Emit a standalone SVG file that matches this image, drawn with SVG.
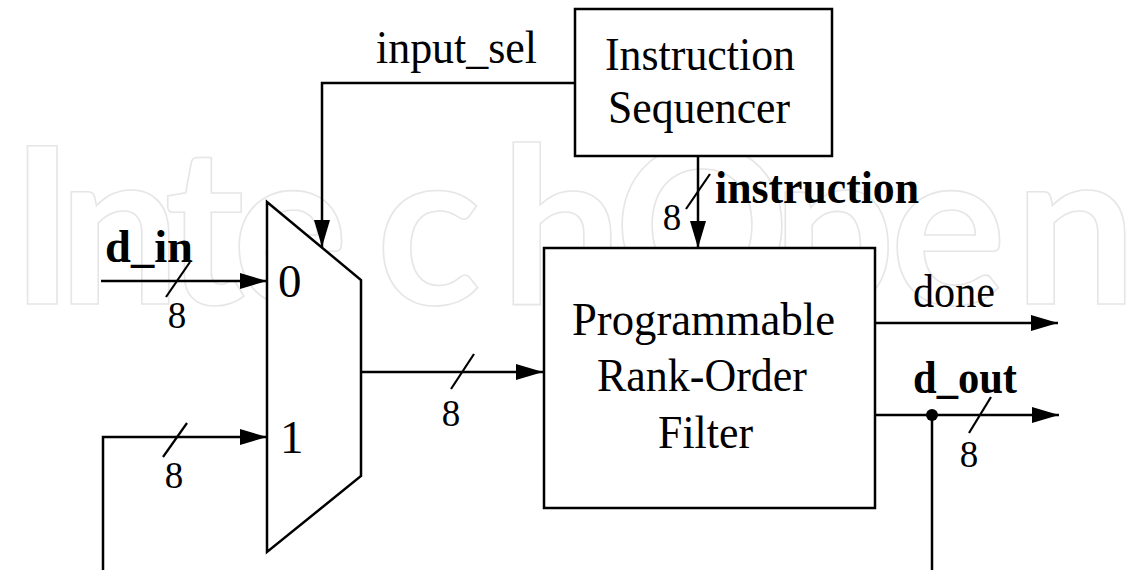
<svg xmlns="http://www.w3.org/2000/svg" width="1143" height="570" viewBox="0 0 1143 570">
  <style>
    .wire { fill: none; stroke: #000; stroke-width: 2.5; }
    .bus { stroke: #000; stroke-width: 2.2; }
    .block { fill: #fff; stroke: #000; stroke-width: 2.5; }
    .lbl { font-family: "Liberation Serif", "Times New Roman", serif; font-size: 47px; fill: #000; }
    .sig { font-family: "Liberation Serif", "Times New Roman", serif; font-size: 46px; font-weight: bold; fill: #000; }
    .w { font-family: "Liberation Serif", "Times New Roman", serif; font-size: 37px; fill: #000; text-anchor: middle; }
    .mark { font-family: Lato, "Open Sans", sans-serif; font-weight: 700; font-size: 218px; fill: none; stroke: #e6e6e6; stroke-width: 1.6; }
  </style>
  <defs>
    <marker id="arrow" markerUnits="userSpaceOnUse" markerWidth="27" markerHeight="16" refX="27" refY="8" orient="auto">
      <path d="M0,0 L27,8 L0,16 z" fill="#000"/>
    </marker>
  </defs>

  <rect width="1143" height="570" fill="#fff"/>

  <!-- background logotype -->
  <text class="mark" x="10 58 164 232 376 500 614 772 890 1014" y="304">IntechOpen</text>

  <!-- connectors -->
  <g id="connectors">
    <path class="wire" d="M575,83 H322 V247" marker-end="url(#arrow)"/>
    <path class="wire" d="M698,156 V248" marker-end="url(#arrow)"/>
    <path class="wire" d="M101,281 H267" marker-end="url(#arrow)"/>
    <path class="wire" d="M103,570 V437 H267" marker-end="url(#arrow)"/>
    <path class="wire" d="M362,372 H543" marker-end="url(#arrow)"/>
    <path class="wire" d="M875,323 H1058" marker-end="url(#arrow)"/>
    <path class="wire" d="M875,415 H1059" marker-end="url(#arrow)"/>
    <path class="wire" d="M932,415 V570"/>
    <circle cx="932" cy="415" r="6" fill="#000"/>

    <!-- bus-width slashes -->
    <line class="bus" x1="710" y1="174" x2="686" y2="209"/>
    <line class="bus" x1="190" y1="262" x2="166" y2="297"/>
    <line class="bus" x1="187" y1="423" x2="163" y2="457"/>
    <line class="bus" x1="474" y1="354" x2="451" y2="389"/>
    <line class="bus" x1="991" y1="397" x2="969" y2="433"/>

    <!-- signal labels -->
    <text class="lbl" x="376" y="63" textLength="161" lengthAdjust="spacingAndGlyphs">input_sel</text>
    <text class="sig" x="715" y="203" textLength="204" lengthAdjust="spacingAndGlyphs">instruction</text>
    <text class="sig" x="105" y="262" font-size="47" textLength="88" lengthAdjust="spacingAndGlyphs">d_in</text>
    <text class="lbl" x="913" y="307" textLength="82" lengthAdjust="spacingAndGlyphs">done</text>
    <text class="sig" x="913" y="393" font-size="43" textLength="104" lengthAdjust="spacingAndGlyphs">d_out</text>

    <text class="w" x="672" y="230">8</text>
    <text class="w" x="177" y="328">8</text>
    <text class="w" x="174" y="488">8</text>
    <text class="w" x="451" y="426">8</text>
    <text class="w" x="969" y="467">8</text>
  </g>

  <!-- nodes -->
  <g id="instruction-sequencer">
    <rect class="block" x="575" y="9" width="257" height="147"/>
    <text class="lbl" x="605" y="70" textLength="190" lengthAdjust="spacingAndGlyphs">Instruction</text>
    <text class="lbl" x="608" y="123" textLength="182" lengthAdjust="spacingAndGlyphs">Sequencer</text>
  </g>

  <g id="mux">
    <polygon class="block" points="267,202 361,280 361,476 267,552"/>
    <text class="lbl" x="278" y="297">0</text>
    <text class="lbl" x="280" y="453">1</text>
  </g>

  <g id="rank-order-filter">
    <rect class="block" x="544" y="248" width="331" height="260"/>
    <text class="lbl" x="572" y="335" textLength="263" lengthAdjust="spacingAndGlyphs">Programmable</text>
    <text class="lbl" x="597" y="391" textLength="210" lengthAdjust="spacingAndGlyphs">Rank-Order</text>
    <text class="lbl" x="658" y="448" textLength="95" lengthAdjust="spacingAndGlyphs">Filter</text>
  </g>
</svg>
